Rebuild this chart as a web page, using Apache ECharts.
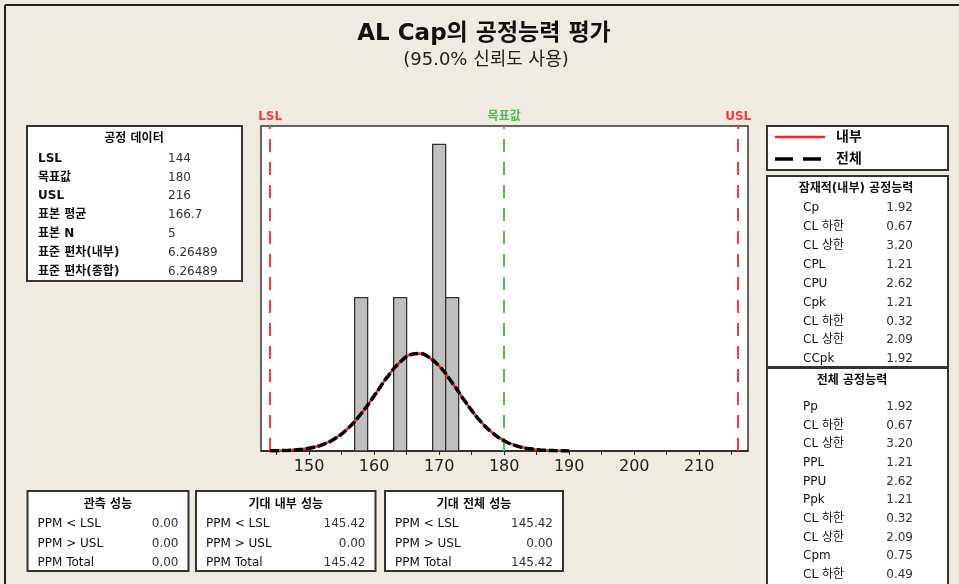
<!DOCTYPE html>
<html>
<head>
<meta charset="utf-8">
<script src="https://cdn.jsdelivr.net/npm/echarts@6/dist/echarts.min.js"></script>
<style>
html,body{margin:0;padding:0;background:#EFEBE0;}
#chart{width:959px;height:584px;}
</style>
</head>
<body>
<div id="chart"></div>
<script>
// ---- data ----
const titleText = 'AL Cap의 공정능력 평가';
const subtitleText = '(95.0% 신뢰도 사용)';
const LSL = 144, TARGET = 180, USL = 216;
const binStart = [157, 163, 169, 171];
const binEnd = [159, 165, 171, 173];
const binCount = [1, 1, 2, 1];
const curveX = [144, 146, 148, 150, 152, 154, 156, 158, 160, 162, 164, 166, 167, 168, 170, 172, 174, 176, 178, 180, 182, 184, 186, 188, 190];
const curveY = [0.0009, 0.0027, 0.0074, 0.0182, 0.0406, 0.0816, 0.148, 0.2428, 0.3595, 0.4806, 0.5803, 0.6328, 0.6361, 0.6232, 0.5543, 0.4453, 0.3230, 0.2116, 0.1252, 0.0669, 0.0323, 0.0141, 0.0055, 0.0020, 0.0006];
const xTickLabels = [150, 160, 170, 180, 190, 200, 210];
const xMinorTicks = [145, 150, 155, 160, 165, 170, 175, 180, 185, 190, 195, 200, 205, 210, 215];

const procTitle = '공정 데이터';
const procLabels = ['LSL', '목표값', 'USL', '표본 평균', '표본 N', '표준 편차(내부)', '표준 편차(종합)'];
const procValues = ['144', '180', '216', '166.7', '5', '6.26489', '6.26489'];
const legendLabels = ['내부', '전체'];
const withinTitle = '잠재적(내부) 공정능력';
const withinLabels = ['Cp', 'CL 하한', 'CL 상한', 'CPL', 'CPU', 'Cpk', 'CL 하한', 'CL 상한', 'CCpk'];
const withinValues = ['1.92', '0.67', '3.20', '1.21', '2.62', '1.21', '0.32', '2.09', '1.92'];
const overallTitle = '전체 공정능력';
const overallLabels = ['Pp', 'CL 하한', 'CL 상한', 'PPL', 'PPU', 'Ppk', 'CL 하한', 'CL 상한', 'Cpm', 'CL 하한'];
const overallValues = ['1.92', '0.67', '3.20', '1.21', '2.62', '1.21', '0.32', '2.09', '0.75', '0.49'];
const perfTitles = ['관측 성능', '기대 내부 성능', '기대 전체 성능'];
const ppmLabels = ['PPM < LSL', 'PPM > USL', 'PPM Total'];
const observedPPM = ['0.00', '0.00', '0.00'];
const expWithinPPM = ['145.42', '0.00', '145.42'];
const expOverallPPM = ['145.42', '0.00', '145.42'];

// ---- build ----
const FONT = '"DejaVu Sans", "Noto Sans CJK KR", sans-serif';
const chart = echarts.init(document.getElementById('chart'), null, {renderer: 'canvas'});
const g = [];
function box(x, y, w, h) {
  g.push({type: 'rect', silent: true, shape: {x: x, y: y, width: w, height: h},
    style: {fill: '#fff', stroke: '#333', lineWidth: 2}, z: 10});
}
function txt(s, x, y, align, opts) {
  opts = opts || {};
  g.push({type: 'text', silent: true, x: x, y: y, z: 11,
    style: {text: s, fill: opts.color || '#111', font: (opts.weight || 'normal') + ' ' + (opts.size || 12) + 'px ' + FONT,
      textAlign: align, textVerticalAlign: 'middle'}});
}
// outer frame lines
g.push({type: 'line', silent: true, shape: {x1: 5, y1: 5, x2: 959, y2: 5}, style: {stroke: '#222', lineWidth: 2}, z: 10});
g.push({type: 'line', silent: true, shape: {x1: 5, y1: 5, x2: 5, y2: 584}, style: {stroke: '#222', lineWidth: 2}, z: 10});
// title
txt(titleText, 484, 34, 'center', {size: 23, weight: 'bold', color: '#111'});
txt(subtitleText, 486, 60, 'center', {size: 18, color: '#222'});

// process data box
box(27, 126, 215, 155);
txt(procTitle, 134, 138.5, 'center', {weight: 'bold'});
procLabels.forEach((l, i) => {
  const y = 158.5 + i * 18.9;
  txt(l, 38, y, 'left', {weight: 'bold'});
  txt(procValues[i], 168, y, 'left', {color: '#333'});
});

// legend box
box(767, 126, 181, 44);
g.push({type: 'line', silent: true, shape: {x1: 775, y1: 137, x2: 825, y2: 137}, style: {stroke: '#FF2020', lineWidth: 2.5}, z: 11});
g.push({type: 'line', silent: true, shape: {x1: 775, y1: 159, x2: 821, y2: 159}, style: {stroke: '#000', lineWidth: 3.5, lineDash: [18, 10]}, z: 11});
txt(legendLabels[0], 836, 137, 'left', {size: 14, weight: 'bold'});
txt(legendLabels[1], 836, 159, 'left', {size: 14, weight: 'bold'});

// within capability box
box(767, 176, 181, 191);
txt(withinTitle, 856, 189, 'center', {weight: 'bold'});
withinLabels.forEach((l, i) => {
  const y = 208.3 + i * 18.85;
  txt(l, 803, y, 'left', {});
  txt(withinValues[i], 913, y, 'right', {color: '#333'});
});

// overall capability box
box(767, 368, 181, 230);
txt(overallTitle, 852, 381, 'center', {weight: 'bold'});
overallLabels.forEach((l, i) => {
  const y = 406.7 + i * 18.7;
  txt(l, 803, y, 'left', {});
  txt(overallValues[i], 913, y, 'right', {color: '#333'});
});

// performance boxes
const perfBoxes = [[27.5, 161], [196, 179.5], [385, 178]];
const perfVals = [observedPPM, expWithinPPM, expOverallPPM];
perfBoxes.forEach((b, k) => {
  box(b[0], 491, b[1], 80);
  txt(perfTitles[k], b[0] + b[1] / 2, 505, 'center', {weight: 'bold'});
  ppmLabels.forEach((l, i) => {
    const y = 524.3 + i * 19.1;
    txt(l, b[0] + 10, y, 'left', {});
    txt(perfVals[k][i], b[0] + b[1] - 10, y, 'right', {color: '#333'});
  });
});

const bins = binStart.map((s, i) => [s, binEnd[i], binCount[i]]);
const curve = curveX.map((x, i) => [x, curveY[i]]);

function specLine(v, name, color) {
  return {xAxis: v, lineStyle: {color: color, type: [13, 10], width: 2},
    label: {show: true, formatter: name, position: 'end', color: color, fontSize: 12, fontWeight: 'bold', fontFamily: FONT, distance: 3}};
}

chart.setOption({
  backgroundColor: '#EFEBE0',
  animation: false,
  grid: {left: 261, right: 211, top: 126, bottom: 133, show: true, backgroundColor: '#fff', borderColor: '#333', borderWidth: 1.5},
  xAxis: {
    type: 'value', min: 142.6, max: 217.5,
    axisLine: {show: true, onZero: false, lineStyle: {color: '#222', width: 1.5}},
    axisTick: {show: true, inside: false, length: 4, customValues: xMinorTicks, lineStyle: {color: '#222'}},
    axisLabel: {customValues: xTickLabels, color: '#222', fontSize: 16, fontFamily: FONT, margin: 8},
    splitLine: {show: false}
  },
  yAxis: {type: 'value', min: 0, max: 2.12, show: false, splitLine: {show: false}},
  graphic: g,
  series: [
    {
      type: 'custom', data: bins, encode: {x: [0, 1], y: 2}, z: 2,
      renderItem: function (params, api) {
        const p0 = api.coord([api.value(0), api.value(2)]);
        const p1 = api.coord([api.value(1), 0]);
        return {type: 'rect', shape: {x: p0[0], y: p0[1], width: p1[0] - p0[0], height: p1[1] - p0[1]},
          style: {fill: '#C0C0C0', stroke: '#333', lineWidth: 1.3}};
      }
    },
    {
      type: 'line', data: curve, smooth: true, showSymbol: false, z: 3,
      lineStyle: {color: '#FF2020', width: 2.5},
      markLine: {silent: true, symbol: ['none', 'none'], z: 1,
        data: [specLine(LSL, 'LSL', '#FF3838'), specLine(TARGET, '목표값', '#55BB55'), specLine(USL, 'USL', '#FF3838')]}
    },
    {
      type: 'line', data: curve, smooth: true, showSymbol: false, z: 4,
      lineStyle: {color: '#000', width: 3.5, type: [9, 3]}
    }
  ]
});
</script>
</body>
</html>
